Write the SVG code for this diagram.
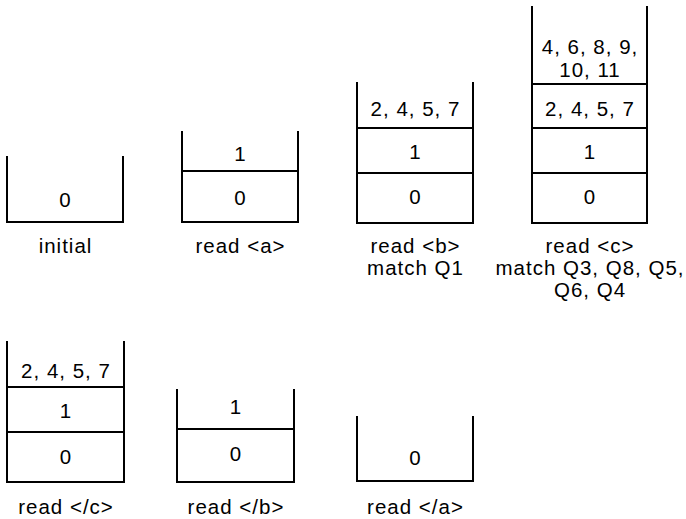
<svg xmlns="http://www.w3.org/2000/svg" width="686" height="519" viewBox="0 0 686 519">
<style>
.s{fill:none;stroke:#000;stroke-width:2;stroke-linecap:square}
.d{stroke:#000;stroke-width:2}
text{font-family:"Liberation Sans",Arial,sans-serif;font-size:20.5px;letter-spacing:1px;fill:#000;text-anchor:middle}
</style>
<rect width="686" height="519" fill="#fff"/>
<g id="initial">
<path class="s" d="M7,157 V222 H123 V157"/>
<text x="65.5" y="207">0</text>
<text x="65.5" y="253">initial</text>
</g>
<g id="read-a">
<path class="s" d="M182,132 V222 H298 V132"/>
<line class="d" x1="182" y1="171" x2="298" y2="171"/>
<text x="240.5" y="161">1</text>
<text x="240.5" y="205">0</text>
<text x="240.5" y="253">read &lt;a&gt;</text>
</g>
<g id="read-b">
<path class="s" d="M357,83 V223 H473 V83"/>
<line class="d" x1="357" y1="128" x2="473" y2="128"/>
<line class="d" x1="357" y1="173" x2="473" y2="173"/>
<text x="415.5" y="116">2, 4, 5, 7</text>
<text x="415.5" y="159">1</text>
<text x="415.5" y="204">0</text>
<text x="415.5" y="253">read &lt;b&gt;</text>
<text x="415.5" y="275">match Q1</text>
</g>
<g id="read-c">
<path class="s" d="M532,7 V223 H647 V7"/>
<line class="d" x1="532" y1="84" x2="647" y2="84"/>
<line class="d" x1="532" y1="128" x2="647" y2="128"/>
<line class="d" x1="532" y1="173" x2="647" y2="173"/>
<text x="590" y="54">4, 6, 8, 9,</text>
<text x="590" y="77">10, 11</text>
<text x="590" y="116">2, 4, 5, 7</text>
<text x="590" y="159">1</text>
<text x="590" y="204">0</text>
<text x="590" y="253">read &lt;c&gt;</text>
<text x="590" y="275">match Q3, Q8, Q5,</text>
<text x="590" y="297">Q6, Q4</text>
</g>
<g id="read-end-c">
<path class="s" d="M7,342 V482 H124 V342"/>
<line class="d" x1="7" y1="387" x2="124" y2="387"/>
<line class="d" x1="7" y1="432" x2="124" y2="432"/>
<text x="66" y="378">2, 4, 5, 7</text>
<text x="66" y="418">1</text>
<text x="66" y="464">0</text>
<text x="66" y="514">read &lt;/c&gt;</text>
</g>
<g id="read-end-b">
<path class="s" d="M177,390 V482 H294 V390"/>
<line class="d" x1="177" y1="429" x2="294" y2="429"/>
<text x="236" y="414">1</text>
<text x="236" y="461">0</text>
<text x="236" y="514">read &lt;/b&gt;</text>
</g>
<g id="read-end-a">
<path class="s" d="M357,417 V481 H473 V417"/>
<text x="415.5" y="465">0</text>
<text x="415.5" y="514">read &lt;/a&gt;</text>
</g>
</svg>
